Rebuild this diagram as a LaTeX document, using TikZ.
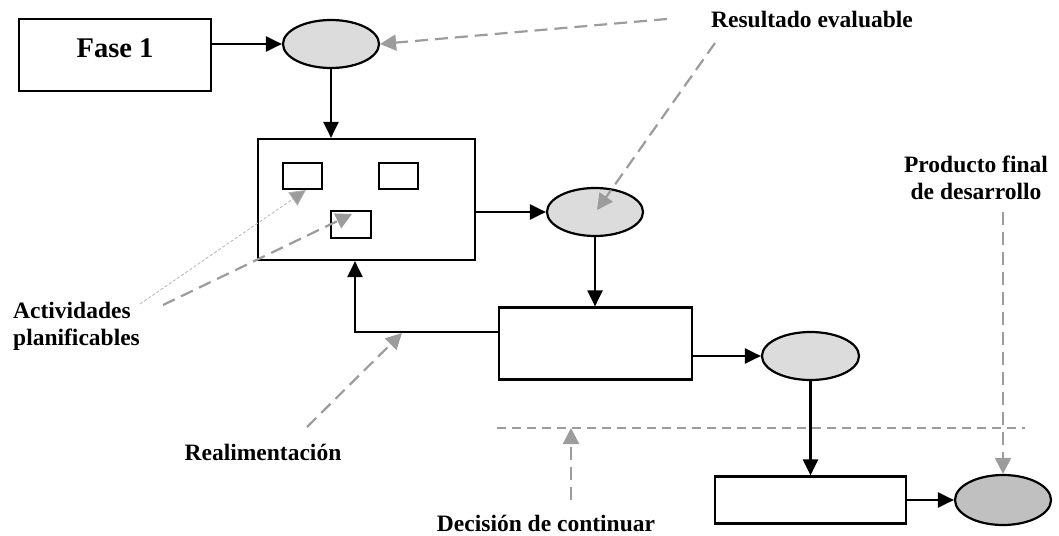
\documentclass[tikz,border=0pt]{standalone}
\usepackage{fontspec}
\setmainfont{Liberation Serif}
\usetikzlibrary{arrows.meta,shapes.geometric}

\definecolor{bubble}{HTML}{DCDCDC}
\definecolor{bubbledark}{HTML}{C0C0C0}
\definecolor{note}{HTML}{9C9C9C}
\definecolor{faint}{HTML}{B4B4B4}

\begin{document}
\begin{tikzpicture}[x=1pt,y=-1pt,
  box/.style={rectangle,draw=black,line width=2.2pt,fill=white,inner sep=0pt},
  bubble/.style={ellipse,draw=black,line width=2.2pt,fill=bubble,inner sep=0pt,
                 minimum width=96pt,minimum height=48pt},
  flow/.style={line width=2.2pt,-{Triangle[length=16pt,width=15pt]}},
  notearrow/.style={draw=note,line width=2.2pt,dash pattern=on 13pt off 7pt,
                    -{Triangle[length=16pt,width=16pt]}},
  faintarrow/.style={draw=faint,line width=0.8pt,dash pattern=on 3pt off 2pt,
                    -{Triangle[length=16pt,width=16pt,fill=note]}},
  lbl/.style={font=\bfseries\fontsize{23.5}{27}\selectfont,inner sep=0pt},
  title/.style={font=\bfseries\fontsize{28.5}{32}\selectfont,inner sep=0pt}
]
\useasboundingbox (0,0) rectangle (1059,535);

% phase boxes and result bubbles
\node[box,minimum width=192pt,minimum height=72pt] (fase1) at (115,55) {};
\node[title,anchor=base] (fase1text) at (115,58) {Fase 1};
\node[bubble] (e1) at (331,44) {};

\node[box,minimum width=217pt,minimum height=121pt] (b2) at (366.5,199.5) {};
\node[bubble] (e2) at (595,212) {};

\node[box,minimum width=193pt,minimum height=72pt] (b3) at (595.5,343.5) {};
\node[bubble,minimum width=97pt] (e3) at (810.5,356) {};

\node[box,minimum width=191pt,minimum height=47pt] (b4) at (810.5,500) {};
\node[bubble,fill=bubbledark,minimum height=50pt] (e4) at (1003,500) {};

% main flow
\draw[flow] (fase1.east |- e1.west) -- (e1.west);
\draw[flow] (e1.south) -- (e1.south |- b2.north);
\draw[flow] (b2.east |- e2.west) -- (e2.west);
\draw[flow] (e2.south) -- (e2.south |- b3.north);
\draw[flow] (b3.east |- e3.west) -- (e3.west);
\draw[flow] (e3.south) -- (e3.south |- b4.north);
\draw[flow] (b4.east |- e4.west) -- (e4.west);

% feedback from the second phase back to the first
\coordinate (fb) at (355,332);
\draw[flow] (b3.west |- fb) -- (fb) -- (fb |- b2.south);

% go / no-go threshold
\coordinate (cut1) at (497,428);
\coordinate (cut2) at (1025,428);
\draw[draw=note,line width=2pt,dash pattern=on 9pt off 6pt] (cut1) -- (cut2);

% labels
\node[lbl,anchor=base] (res) at (812,28) {Resultado evaluable};
\node[lbl,anchor=west,align=left] (act) at (13,326) {Actividades\\planificables};
\node[lbl,anchor=base] (real) at (263,460) {Realimentación};
\node[lbl,anchor=base] (dec) at (546,531) {Decisión de continuar};
\node[lbl,align=center] (prod) at (976,178) {Producto final\\de desarrollo};

% label pointers
\coordinate (resA) at (667,19);
\coordinate (resB) at (715,43);
\coordinate (resTip) at (597,210);
\draw[notearrow] (resA) -- (e1.east);
\draw[notearrow] (resB) -- (resTip);

\coordinate (actA) at (140,304);
\coordinate (actB) at (163,305);
\coordinate (actTip1) at (306,190);
\coordinate (actTip2) at (352,214);
\draw[faintarrow] (actA) -- (actTip1);

% planned activities inside the first phase
\node[box,line width=1.8pt,minimum width=39pt,minimum height=26pt] (s1) at (302.5,176) {};
\node[box,line width=1.8pt,minimum width=39pt,minimum height=26pt] (s2) at (398.5,176) {};
\node[box,line width=1.8pt,minimum width=40pt,minimum height=27pt] (s3) at (351,224.5) {};
\draw[notearrow] (actB) -- (actTip2);

\coordinate (realA) at (307,427);
\coordinate (realTip) at (402,333);
\draw[notearrow] (realA) -- (realTip);

\coordinate (decA) at (571,500);
\draw[notearrow] (decA) -- (decA |- cut1);

\coordinate (prodA) at (1003,212);
\draw[notearrow] (prodA) -- (e4.north);
\end{tikzpicture}
\end{document}
